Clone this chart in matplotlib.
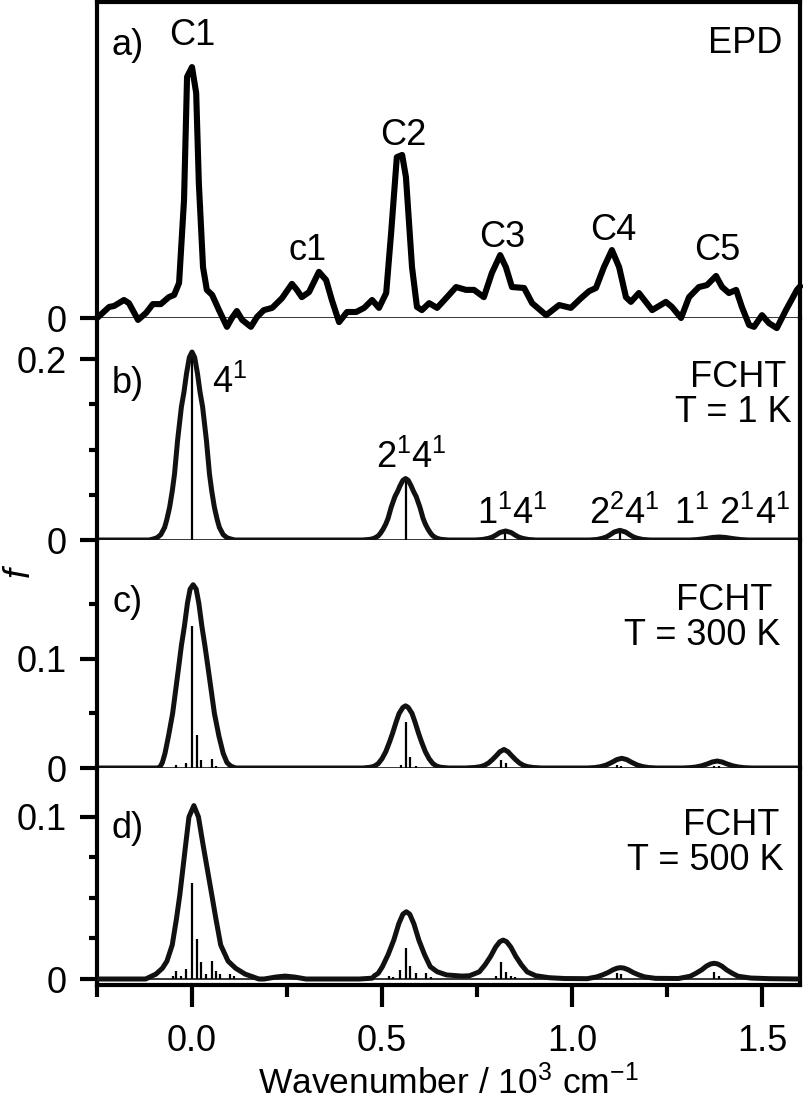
import numpy as np
import matplotlib
matplotlib.use("Agg")
import matplotlib.pyplot as plt
from matplotlib.ticker import FixedLocator

plt.rcParams['font.family'] = ['Liberation Sans', 'DejaVu Sans']
plt.rcParams['mathtext.fontset'] = 'custom'
plt.rcParams['mathtext.rm'] = 'Liberation Sans'
plt.rcParams['mathtext.it'] = 'Liberation Sans:italic'

# ---- a) EPD spectrum (arb. units)
epd_x = [-0.25, -0.247, -0.218, -0.205, -0.179, -0.166, -0.142, -0.121, -0.103, -0.082,
         -0.061, -0.047, -0.034, -0.021, -0.013, 0.0, 0.011, 0.018, 0.029, 0.039,
         0.053, 0.071, 0.092, 0.105, 0.118, 0.132, 0.155, 0.171, 0.189, 0.211,
         0.237, 0.263, 0.276, 0.289, 0.308, 0.334, 0.353, 0.368, 0.387, 0.408,
         0.432, 0.453, 0.474, 0.492, 0.511, 0.524, 0.539, 0.553, 0.563, 0.579,
         0.592, 0.605, 0.624, 0.645, 0.671, 0.695, 0.721, 0.742, 0.768, 0.789,
         0.811, 0.826, 0.842, 0.874, 0.895, 0.932, 0.966, 0.997, 1.024, 1.045,
         1.063, 1.084, 1.105, 1.124, 1.142, 1.155, 1.176, 1.211, 1.247, 1.263,
         1.287, 1.308, 1.334, 1.355, 1.379, 1.395, 1.413, 1.432, 1.447, 1.466,
         1.479, 1.5, 1.518, 1.539, 1.563, 1.592, 1.6]
epd_y = [0.0, 0.003, 0.035, 0.038, 0.057, 0.047, -0.006, 0.016, 0.044, 0.044,
         0.066, 0.073, 0.111, 0.373, 0.763, 0.794, 0.712, 0.427, 0.161, 0.089,
         0.073, 0.025, -0.028, 0.0, 0.022, -0.006, -0.028, 0.003, 0.025, 0.032,
         0.063, 0.108, 0.089, 0.066, 0.082, 0.146, 0.120, 0.057, -0.013, 0.019,
         0.019, 0.032, 0.057, 0.032, 0.079, 0.269, 0.509, 0.516, 0.446, 0.161,
         0.035, 0.025, 0.047, 0.032, 0.066, 0.098, 0.089, 0.089, 0.066, 0.142,
         0.199, 0.161, 0.098, 0.095, 0.047, 0.009, 0.041, 0.032, 0.063, 0.085,
         0.095, 0.161, 0.215, 0.161, 0.066, 0.051, 0.079, 0.025, 0.051, 0.035,
         0.0, 0.066, 0.098, 0.104, 0.133, 0.098, 0.079, 0.089, 0.035, -0.022,
         -0.028, 0.009, -0.016, -0.032, 0.025, 0.089, 0.10]

# ---- b) FCHT T = 1 K
b_env_x = [-0.25, -0.113, -0.103, -0.092, -0.082, -0.072, -0.066, -0.059, -0.052, -0.046,
           -0.038, -0.028, -0.021, -0.0145, -0.007, 0.0, 0.007, 0.0145, 0.021, 0.028,
           0.038, 0.046, 0.052, 0.059, 0.066, 0.072, 0.082, 0.092, 0.103, 0.113,
           0.449, 0.470, 0.480, 0.490, 0.496, 0.503, 0.510, 0.516, 0.524, 0.534,
           0.541, 0.5475, 0.555, 0.562, 0.569, 0.5765, 0.583, 0.590, 0.600, 0.608,
           0.614, 0.621, 0.628, 0.634, 0.644, 0.654, 0.675,
           0.745, 0.765, 0.78, 0.79, 0.80, 0.81, 0.825, 0.84, 0.85, 0.86, 0.87, 0.885, 0.905,
           1.046, 1.066, 1.081, 1.091, 1.101, 1.111, 1.126, 1.141, 1.151, 1.161, 1.171, 1.186, 1.206,
           1.31, 1.33, 1.35, 1.37, 1.387, 1.404, 1.424, 1.444, 1.464, 1.6]
b_env_y = [0, 0, 0.001, 0.0025, 0.006, 0.014, 0.023, 0.036, 0.054, 0.073,
           0.110, 0.147, 0.164, 0.184, 0.202, 0.208, 0.202, 0.184, 0.164, 0.147,
           0.110, 0.073, 0.054, 0.036, 0.023, 0.014, 0.006, 0.0025, 0.001, 0,
           0, 0.0008, 0.002, 0.0045, 0.0075, 0.012, 0.0177, 0.024, 0.036, 0.048,
           0.0537, 0.060, 0.066, 0.068, 0.066, 0.060, 0.0537, 0.048, 0.036, 0.024,
           0.0177, 0.012, 0.0075, 0.0045, 0.002, 0.0008, 0,
           0, 0.0006, 0.0018, 0.0032, 0.0055, 0.0082, 0.010, 0.0082, 0.0055, 0.0032, 0.0018, 0.0006, 0,
           0, 0.0006, 0.002, 0.0035, 0.006, 0.0088, 0.0107, 0.0088, 0.006, 0.0035, 0.002, 0.0006, 0,
           0, 0.0005, 0.0015, 0.0028, 0.0033, 0.0028, 0.0015, 0.0005, 0, 0]
b_stick_x = [0.0, 0.562, 0.825, 1.126, 1.387]
b_stick_h = [0.208, 0.067, 0.009, 0.009, 0.003]

# ---- c) FCHT T = 300 K
c_env_x = [-0.25, -0.087, -0.083, -0.078, -0.071, -0.062, -0.051, -0.036, -0.028, -0.020,
           -0.012, -0.005, 0.003, 0.011, 0.018, 0.026, 0.034, 0.043, 0.059, 0.071,
           0.082, 0.092, 0.102, 0.115,
           0.45, 0.47, 0.48, 0.49, 0.50, 0.51, 0.52, 0.528, 0.537, 0.545, 0.555, 0.562,
           0.569, 0.579, 0.587, 0.596, 0.604, 0.614, 0.624, 0.634, 0.644, 0.654, 0.675,
           0.72, 0.745, 0.76, 0.77, 0.78, 0.79, 0.80, 0.81, 0.821, 0.832, 0.842, 0.852,
           0.862, 0.872, 0.882, 0.897, 0.92,
           1.04, 1.06, 1.075, 1.09, 1.105, 1.118, 1.131, 1.144, 1.157, 1.172, 1.187, 1.202, 1.222,
           1.29, 1.31, 1.326, 1.341, 1.356, 1.369, 1.382, 1.395, 1.408, 1.423, 1.438, 1.454, 1.474, 1.6]
c_env_y = [0, 0, 0.0017, 0.005, 0.0135, 0.029, 0.050, 0.090, 0.112, 0.130,
           0.151, 0.164, 0.168, 0.164, 0.151, 0.130, 0.112, 0.090, 0.050, 0.029,
           0.0135, 0.005, 0.0017, 0,
           0, 0.0007, 0.0017, 0.004, 0.0085, 0.015, 0.024, 0.032, 0.042, 0.050, 0.0555, 0.057,
           0.0555, 0.050, 0.042, 0.032, 0.024, 0.015, 0.0085, 0.004, 0.0017, 0.0007, 0,
           0, 0.0005, 0.0013, 0.0025, 0.0045, 0.0075, 0.011, 0.0148, 0.017, 0.0148, 0.011, 0.0075,
           0.0045, 0.0025, 0.0013, 0.0005, 0,
           0, 0.0004, 0.0012, 0.0027, 0.0052, 0.0077, 0.0089, 0.0077, 0.0052, 0.0027, 0.0012, 0.0004, 0,
           0, 0.0003, 0.0009, 0.002, 0.0037, 0.0055, 0.0064, 0.0055, 0.0037, 0.002, 0.0009, 0.0003, 0, 0]
c_stick_x = [-0.043, -0.017, 0.0, 0.014, 0.025, 0.052, 0.062, 0.55, 0.562, 0.575, 0.59,
             0.812, 0.826, 1.118, 1.13, 1.374, 1.387]
c_stick_h = [0.003, 0.005, 0.130, 0.030, 0.007, 0.008, 0.002, 0.003, 0.0425, 0.010, 0.002,
             0.0073, 0.005, 0.003, 0.002, 0.002, 0.0015]

# ---- d) FCHT T = 500 K
d_env_x = [-0.25, -0.122, -0.095, -0.078, -0.066, -0.052, -0.041, -0.032, -0.0166, -0.008,
           0.005, 0.017, 0.029, 0.052, 0.063, 0.0755, 0.095, 0.115, 0.14, 0.176,
           0.19, 0.22, 0.245, 0.27, 0.30,
           0.44, 0.474, 0.48, 0.49, 0.501, 0.516, 0.531, 0.544, 0.555, 0.564,
           0.573, 0.584, 0.597, 0.612, 0.627, 0.645, 0.67, 0.71,
           0.73, 0.756, 0.771, 0.786, 0.799, 0.81, 0.819, 0.828, 0.839, 0.852, 0.867,
           0.882, 0.905, 0.94, 0.98,
           1.04, 1.065, 1.08, 1.095, 1.108, 1.119, 1.128, 1.137, 1.148, 1.161, 1.176, 1.191, 1.22,
           1.28, 1.311, 1.326, 1.341, 1.354, 1.365, 1.374, 1.383, 1.394, 1.407, 1.422, 1.437,
           1.47, 1.52, 1.6]
d_env_y = [0, 0, 0.003, 0.0066, 0.011, 0.021, 0.037, 0.052, 0.083, 0.100,
           0.107, 0.100, 0.083, 0.052, 0.037, 0.021, 0.011, 0.0066, 0.003, 0,
           0, 0.0012, 0.0018, 0.0012, 0,
           0, 0.0005, 0.002, 0.0035, 0.0076, 0.015, 0.024, 0.034, 0.040, 0.0415,
           0.040, 0.034, 0.024, 0.015, 0.0076, 0.0045, 0.0025, 0.0018,
           0.002, 0.0044, 0.0087, 0.014, 0.0197, 0.023, 0.024, 0.023, 0.0197, 0.014, 0.0087,
           0.0044, 0.002, 0.0008, 0.0003,
           0.0002, 0.0013, 0.0025, 0.004, 0.0057, 0.0067, 0.007, 0.0067, 0.0057, 0.004, 0.0025, 0.0013, 0.0004,
           0.0003, 0.0017, 0.0035, 0.0056, 0.008, 0.0093, 0.0097, 0.0093, 0.008, 0.0056, 0.0035, 0.0017,
           0.0006, 0.0002, 0]
d_stick_x = [-0.05, -0.043, -0.03, -0.017, 0.0, 0.014, 0.025, 0.038, 0.052, 0.062, 0.075,
             0.099, 0.11, 0.518, 0.53, 0.547, 0.564, 0.575, 0.589, 0.615, 0.63,
             0.80, 0.812, 0.826, 0.84, 0.85, 1.118, 1.13, 1.374, 1.387]
d_stick_h = [0.002, 0.005, 0.002, 0.006, 0.059, 0.0247, 0.0107, 0.003, 0.0113, 0.005, 0.003,
             0.003, 0.002, 0.002, 0.001, 0.0055, 0.019, 0.008, 0.0035, 0.0035, 0.0015,
             0.002, 0.0107, 0.0045, 0.002, 0.0015, 0.0037, 0.003, 0.0045, 0.002]

W, H = 804, 1103
fig = plt.figure(figsize=(W / 100, H / 100), dpi=100)

left, right = 97 / W, 800 / W
def add_panel(top_px, bot_px):
    return fig.add_axes([left, 1 - bot_px / H, right - left, (bot_px - top_px) / H])

axa = add_panel(2, 318)
axb = add_panel(318, 540)
axc = add_panel(540, 768)
axd = add_panel(768, 985)
axes = [axa, axb, axc, axd]

fs = 26
lw_sp = 3.0
lw_env = 3.6
for ax in axes:
    ax.set_xlim(-0.25, 1.6)
    ax.patch.set_alpha(0)
    for s in ['left', 'right', 'top', 'bottom']:
        ax.spines[s].set_linewidth(lw_sp)
        ax.spines[s].set_visible(False)
    ax.spines['left'].set_visible(True)
    ax.spines['right'].set_visible(True)
    ax.tick_params(axis='y', which='major', direction='out', length=12, width=lw_sp,
                   labelsize=fs, pad=10)
    ax.tick_params(axis='y', which='minor', direction='out', length=6, width=lw_sp)
    ax.tick_params(axis='x', which='both', bottom=False, labelbottom=False)
    ax.axhline(0, color='black', lw=1.1, zorder=1)

axa.spines['top'].set_visible(True)
axd.spines['bottom'].set_visible(True)
axd.tick_params(axis='x', which='major', bottom=True, labelbottom=True, direction='out',
                length=16, width=lw_sp, labelsize=fs, pad=12)
axd.tick_params(axis='x', which='minor', bottom=True, direction='out', length=8.5, width=lw_sp)
axd.xaxis.set_major_locator(FixedLocator([0.0, 0.5, 1.0, 1.5]))
axd.xaxis.set_minor_locator(FixedLocator([-0.25, 0.25, 0.75, 1.25]))
axd.set_xticklabels(['0.0', '0.5', '1.0', '1.5'])

# panel a
axa.set_ylim(0, 1.0)
axa.set_yticks([0])
axa.set_yticklabels(['0'])
axa.plot(epd_x, epd_y, color='black', lw=4.4, clip_on=False, zorder=5,
         solid_joinstyle='round')
axa.text(-0.213, 0.832, 'a)', fontsize=fs, ha='left', va='baseline')
for lab, x, y in [('C1', 0.0, 0.864), ('c1', 0.305, 0.184), ('C2', 0.555, 0.547),
                  ('C3', 0.816, 0.225), ('C4', 1.108, 0.247), ('C5', 1.382, 0.184)]:
    axa.text(x, y, lab, fontsize=fs, ha='center', va='baseline')
axa.text(1.553, 0.839, 'EPD', fontsize=fs, ha='right', va='baseline')

# panel b
axb.set_ylim(0, 0.2456)
axb.yaxis.set_major_locator(FixedLocator([0, 0.2]))
axb.yaxis.set_minor_locator(FixedLocator([0.05, 0.1, 0.15]))
axb.set_yticklabels(['0', '0.2'])
axb.plot(b_env_x, b_env_y, color='#111111', lw=lw_env, zorder=4, solid_joinstyle='round')
axb.vlines(b_stick_x, 0, b_stick_h, color='black', lw=1.6, zorder=3)
axb.text(-0.21, 0.163, 'b)', fontsize=fs, ha='left', va='baseline')
axb.text(0.053, 0.163, r'4$^1$', fontsize=fs, ha='left', va='baseline')
axb.text(1.563, 0.169, 'FCHT', fontsize=fs, ha='right', va='baseline')
axb.text(1.578, 0.130, 'T = 1 K', fontsize=fs, ha='right', va='baseline')
axb.text(0.576, 0.080, r'2$^1$4$^1$', fontsize=fs, ha='center', va='baseline')
axb.text(0.842, 0.0178, r'1$^1$4$^1$', fontsize=fs, ha='center', va='baseline')
axb.text(1.137, 0.0178, r'2$^2$4$^1$', fontsize=fs, ha='center', va='baseline')
axb.text(1.421, 0.0178, r'1$^1$ 2$^1$4$^1$', fontsize=fs, ha='center', va='baseline')

# panel c
axc.set_ylim(0, 0.209)
axc.yaxis.set_major_locator(FixedLocator([0, 0.1]))
axc.yaxis.set_minor_locator(FixedLocator([0.05, 0.15]))
axc.set_yticklabels(['0', '0.1'])
axc.plot(c_env_x, c_env_y, color='#111111', lw=lw_env, zorder=4, solid_joinstyle='round')
axc.vlines(c_stick_x, 0, c_stick_h, color='black', lw=1.6, zorder=3)
axc.text(-0.21, 0.143, 'c)', fontsize=fs, ha='left', va='baseline')
axc.text(1.526, 0.145, 'FCHT', fontsize=fs, ha='right', va='baseline')
axc.text(1.550, 0.113, 'T = 300 K', fontsize=fs, ha='right', va='baseline')

# panel d
axd.set_ylim(-0.0037, 0.1302)
axd.yaxis.set_major_locator(FixedLocator([0, 0.1]))
axd.yaxis.set_minor_locator(FixedLocator([0.025, 0.05, 0.075]))
axd.set_yticklabels(['0', '0.1'])
axd.plot(d_env_x, d_env_y, color='#111111', lw=lw_env, zorder=4, solid_joinstyle='round')
axd.vlines(d_stick_x, 0, d_stick_h, color='black', lw=1.6, zorder=3)
axd.text(-0.213, 0.087, 'd)', fontsize=fs, ha='left', va='baseline')
axd.text(1.545, 0.0889, 'FCHT', fontsize=fs, ha='right', va='baseline')
axd.text(1.558, 0.0673, 'T = 500 K', fontsize=fs, ha='right', va='baseline')

fig.text((left + right) / 2, 2 / H, r'Wavenumber / 10$^3$ cm$^{-1}$', fontsize=fs - 0.5,
         ha='center', va='bottom')
fig.text(19 / W, 1 - 572 / H, 'f', fontsize=fs, style='italic', rotation=90,
         ha='center', va='center')

fig.savefig('out.png', dpi=100)
